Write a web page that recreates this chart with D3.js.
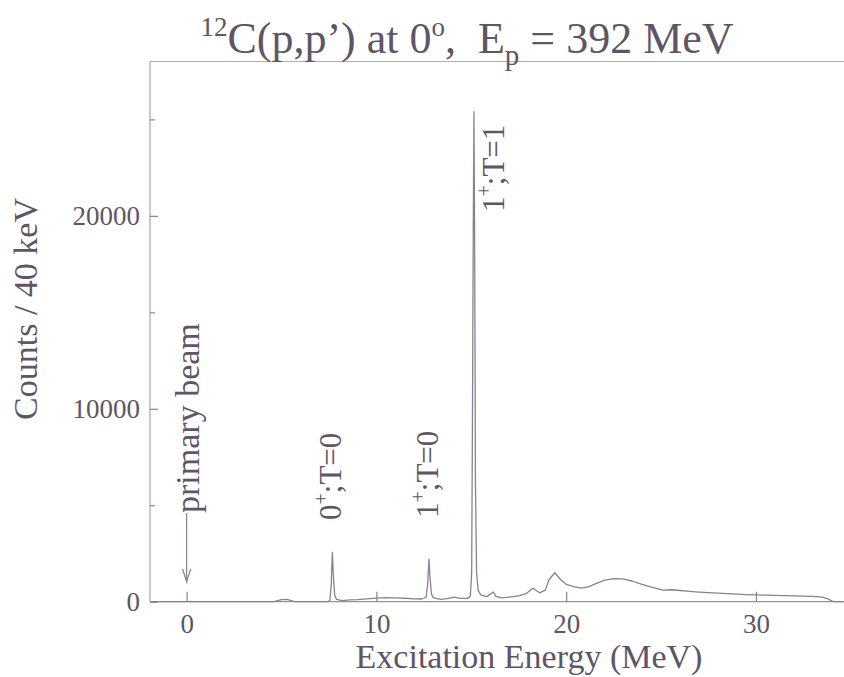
<!DOCTYPE html>
<html>
<head>
<meta charset="utf-8">
<script src="https://cdn.jsdelivr.net/npm/d3@7"></script>
<style>
  html, body { margin: 0; padding: 0; background: #ffffff; }
  svg { display: block; }
  text { font-family: "Liberation Serif", "Times New Roman", serif; fill: #5e5566; white-space: pre; }
</style>
</head>
<body>
<svg id="chart" width="844" height="677"></svg>
<script>
// ---- data ----
const energy = [
  -1.9, 4.6, 4.8, 5.0, 5.3, 5.5, 5.7, 7.45, 7.55, 7.62, 7.68, 7.73, 7.8, 7.9, 8.2,
  8.6, 9.0, 9.5, 10.0, 10.5, 11.0, 11.5, 12.0, 12.4, 12.62, 12.7, 12.77, 12.82, 12.9, 13.0,
  13.4, 13.8, 14.1, 14.4, 14.8, 14.95, 15.02, 15.06, 15.1, 15.14, 15.18, 15.22, 15.28, 15.36,
  15.5, 15.8, 16.05, 16.16, 16.3, 16.6, 17.0, 17.5, 17.9, 18.25, 18.6, 18.9, 19.1, 19.4,
  19.7, 20.0, 20.4, 20.8, 21.2, 21.6, 22.0, 22.5, 23.0, 23.5, 24.0, 24.5, 25.1, 25.6,
  26.0, 26.5, 27.0, 27.5, 28.0, 28.5, 29.0, 29.5, 30.0, 30.5, 31.0, 31.5, 32.0, 32.5,
  33.0, 33.5, 33.8, 34.0, 34.2, 34.6
];
const counts = [
  0, 0, 60, 110, 120, 60, 0, 0, 80, 900, 2550, 1400, 350, 120, 60,
  90, 110, 150, 190, 210, 200, 180, 150, 140, 230, 900, 2200, 1300, 400, 200,
  120, 170, 240, 170, 170, 300, 1500, 9000, 18500, 25400, 18000, 6000, 1500, 600,
  350, 260, 420, 500, 280, 200, 240, 300, 420, 700, 460, 600, 1150, 1500,
  1150, 900, 780, 700, 780, 950, 1100, 1200, 1180, 1060, 900, 760, 600, 620,
  580, 540, 500, 470, 440, 420, 390, 370, 350, 340, 330, 320, 300, 290,
  280, 240, 150, 30, 0, 0
];
const xTicks = [0, 10, 20, 30];
const yTicksMajor = [0, 10000, 20000];
const yTicksMinor = [5000, 15000, 25000];
const peakLabels = [
  { base: "0", sup: "+", rest: ";T=0" },
  { base: "1", sup: "+", rest: ";T=0" },
  { base: "1", sup: "+", rest: ";T=1" }
];
const peakLabelPos = [[7.68, 520], [12.77, 518], [15.14, 212]]; // energy, y-pixel of text start
const titleText = ["12", "C(p,p\u2019) at 0", "o", ",  E", "p", " = 392 MeV"];

// ---- layout ----
const FONT = '"Liberation Serif", "Times New Roman", serif';
const svg = d3.select("#chart");
const x = d3.scaleLinear().domain([-1.93, 34.64]).range([150, 844]);
const y = d3.scaleLinear().domain([0, 28000]).range([601.7, 61.5]);
const lineCol = "#8a8092";
const textCol = "#5e5566";

// frame lines (left, top, bottom)
svg.append("line").attr("x1", 150).attr("x2", 150).attr("y1", y(28000)).attr("y2", y(0))
  .attr("stroke", "#a79fad").attr("stroke-width", 1.2);
svg.append("line").attr("x1", 150).attr("x2", 844).attr("y1", y(28000)).attr("y2", y(28000))
  .attr("stroke", "#b3acb8").attr("stroke-width", 1.2);
svg.append("line").attr("x1", 150).attr("x2", 844).attr("y1", y(0)).attr("y2", y(0))
  .attr("stroke", "#9a91a0").attr("stroke-width", 1.3);

// x axis
const xAxis = d3.axisBottom(x).tickValues(xTicks).tickSize(-10).tickPadding(12).tickFormat(d3.format("d"));
const gx = svg.append("g").attr("transform", `translate(0,${y(0)})`).call(xAxis)
  .attr("font-family", FONT).attr("font-size", 27);
gx.select(".domain").remove();
gx.selectAll("line").attr("stroke", lineCol).attr("stroke-width", 1.2);
gx.selectAll("text").attr("fill", textCol);

// y axis major
const yAxis = d3.axisLeft(y).tickValues(yTicksMajor).tickSize(-8).tickPadding(10).tickFormat(d3.format("d"));
const gy = svg.append("g").attr("transform", "translate(150,0)").call(yAxis)
  .attr("font-family", FONT).attr("font-size", 27);
gy.select(".domain").remove();
gy.selectAll("line").attr("stroke", lineCol).attr("stroke-width", 1.2);
gy.selectAll("text").attr("fill", textCol);
// y axis minor
const yAxisMinor = d3.axisLeft(y).tickValues(yTicksMinor).tickSize(-5).tickFormat("");
const gym = svg.append("g").attr("transform", "translate(150,0)").call(yAxisMinor);
gym.select(".domain").remove();
gym.selectAll("line").attr("stroke", lineCol).attr("stroke-width", 1.1);

// spectrum
const pts = energy.map((e, i) => [e, counts[i]]);
svg.append("path").datum(pts)
  .attr("d", d3.line().x(d => x(d[0])).y(d => y(d[1])))
  .attr("fill", "none").attr("stroke", lineCol).attr("stroke-width", 1.3)
  .attr("stroke-linejoin", "round");

// peak labels (rotated)
peakLabels.forEach((lab, i) => {
  const [e, ys] = peakLabelPos[i];
  const bx = x(e) + (i === 2 ? 30 : 9);
  const t = svg.append("text")
    .attr("transform", `translate(${bx},${ys}) rotate(-90)`)
    .attr("font-size", 31).attr("fill", textCol);
  t.append("tspan").text(lab.base);
  t.append("tspan").attr("font-size", 20).attr("dy", -13).text(lab.sup);
  t.append("tspan").attr("dy", 13).text(lab.rest);
});

// primary beam label + arrow
svg.append("text")
  .attr("transform", `translate(${x(0) + 12},513) rotate(-90)`)
  .attr("font-size", 34).attr("fill", textCol).text("primary beam");
svg.append("line").attr("x1", x(0)).attr("x2", x(0)).attr("y1", 513).attr("y2", 582)
  .attr("stroke", lineCol).attr("stroke-width", 1.2);
svg.append("path")
  .attr("d", `M${x(0) - 4},569 L${x(0)},582 L${x(0) + 4},569`)
  .attr("fill", "none").attr("stroke", lineCol).attr("stroke-width", 1.2);

// axis titles
svg.append("text").attr("x", 529).attr("y", 668).attr("text-anchor", "middle")
  .attr("font-size", 34).attr("fill", textCol).text("Excitation Energy (MeV)");
svg.append("text").attr("transform", "translate(37,309) rotate(-90)").attr("text-anchor", "middle")
  .attr("font-size", 34).attr("fill", textCol).text("Counts / 40 keV");

// title
const tt = svg.append("text").attr("x", 467).attr("y", 53).attr("text-anchor", "middle")
  .attr("font-size", 44).attr("fill", textCol);
tt.append("tspan").attr("font-size", 27).attr("dy", -17).text(titleText[0]);
tt.append("tspan").attr("dy", 17).text(titleText[1]);
tt.append("tspan").attr("font-size", 27).attr("dy", -17).text(titleText[2]);
tt.append("tspan").attr("dy", 17).text(titleText[3]);
tt.append("tspan").attr("font-size", 29).attr("dy", 12).text(titleText[4]);
tt.append("tspan").attr("dy", -12).text(titleText[5]);
</script>
</body>
</html>
